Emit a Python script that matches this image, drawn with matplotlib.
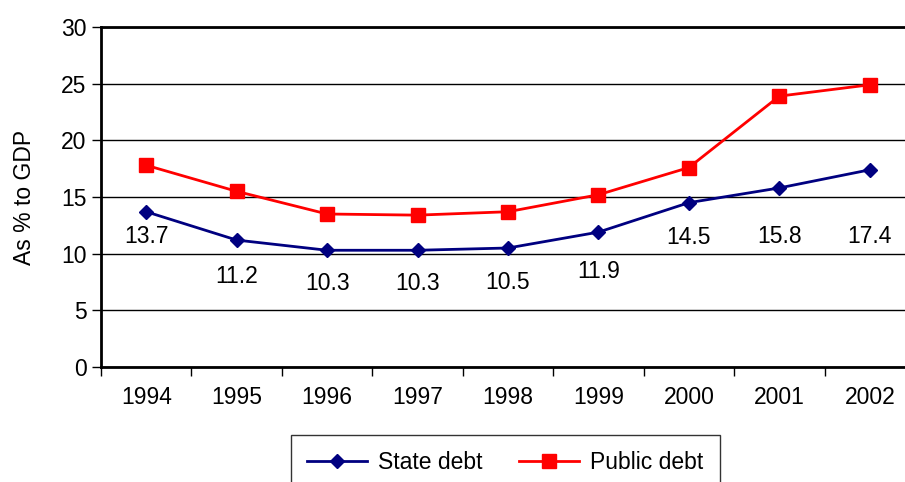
import matplotlib
matplotlib.use("Agg")
import matplotlib.pyplot as plt
from matplotlib.lines import Line2D

plt.rcParams["font.family"] = ["Liberation Sans", "DejaVu Sans"]

years = ["1994", "1995", "1996", "1997", "1998", "1999", "2000", "2001", "2002"]
state_debt = [13.7, 11.2, 10.3, 10.3, 10.5, 11.9, 14.5, 15.8, 17.4]
public_debt = [17.8, 15.5, 13.5, 13.4, 13.7, 15.2, 17.6, 23.9, 24.9]

# label offsets below each state-debt point, in points
label_dy = [-18, -26, -24, -24, -25, -28, -25, -35, -48]

FS = 16.5

fig = plt.figure(figsize=(9.05, 4.82), dpi=100)
W, H = 905, 482
ax = fig.add_axes([101 / W, (H - 367) / H, 814 / W, 340 / H])

x = list(range(len(years)))
ax.plot(x, state_debt, color="#000080", lw=2, marker="D", ms=7.5,
        markeredgecolor="#000080", markerfacecolor="#000080", zorder=3)
ax.plot(x, public_debt, color="#ff0000", lw=2, marker="s", ms=9.5,
        markeredgecolor="#ff0000", markerfacecolor="#ff0000", zorder=3)

for xi, v, dy in zip(x, state_debt, label_dy):
    ax.annotate(f"{v:.1f}", (xi, v), xytext=(0, dy), textcoords="offset points",
                ha="center", va="center", fontsize=FS)

ax.set_xlim(-0.5, len(years) - 0.5)
ax.set_ylim(0, 30)
ax.set_yticks(range(0, 31, 5))
ax.set_xticks(x)
ax.set_xticklabels(years)
ax.set_xticks([i - 0.5 for i in range(len(years) + 1)], minor=True)
ax.tick_params(axis="x", which="major", length=0, labelsize=FS, pad=14)
ax.tick_params(axis="x", which="minor", length=6.5, width=1, direction="out")
ax.tick_params(axis="y", length=6.5, width=1, labelsize=FS, pad=4)
ax.yaxis.grid(True, color="black", lw=1)
ax.set_axisbelow(True)
for side in ["left", "bottom", "top"]:
    ax.spines[side].set_linewidth(2)
ax.spines["right"].set_visible(False)
ax.set_ylabel("As % to GDP", fontsize=FS, labelpad=18)

handles = [
    Line2D([], [], color="#000080", lw=2, marker="D", ms=7.5),
    Line2D([], [], color="#ff0000", lw=2, marker="s", ms=9.5),
]
leg = fig.legend(handles, ["State debt", "Public debt"], ncol=2,
                 loc="upper left", bbox_to_anchor=(291 / W, 1 - 435 / H),
                 frameon=True, fancybox=False, edgecolor="black",
                 fontsize=FS, handlelength=2.6, handletextpad=0.5,
                 columnspacing=1.6, borderpad=0.7, borderaxespad=0)
leg.get_frame().set_linewidth(1)

fig.savefig("out.png", dpi=100)
